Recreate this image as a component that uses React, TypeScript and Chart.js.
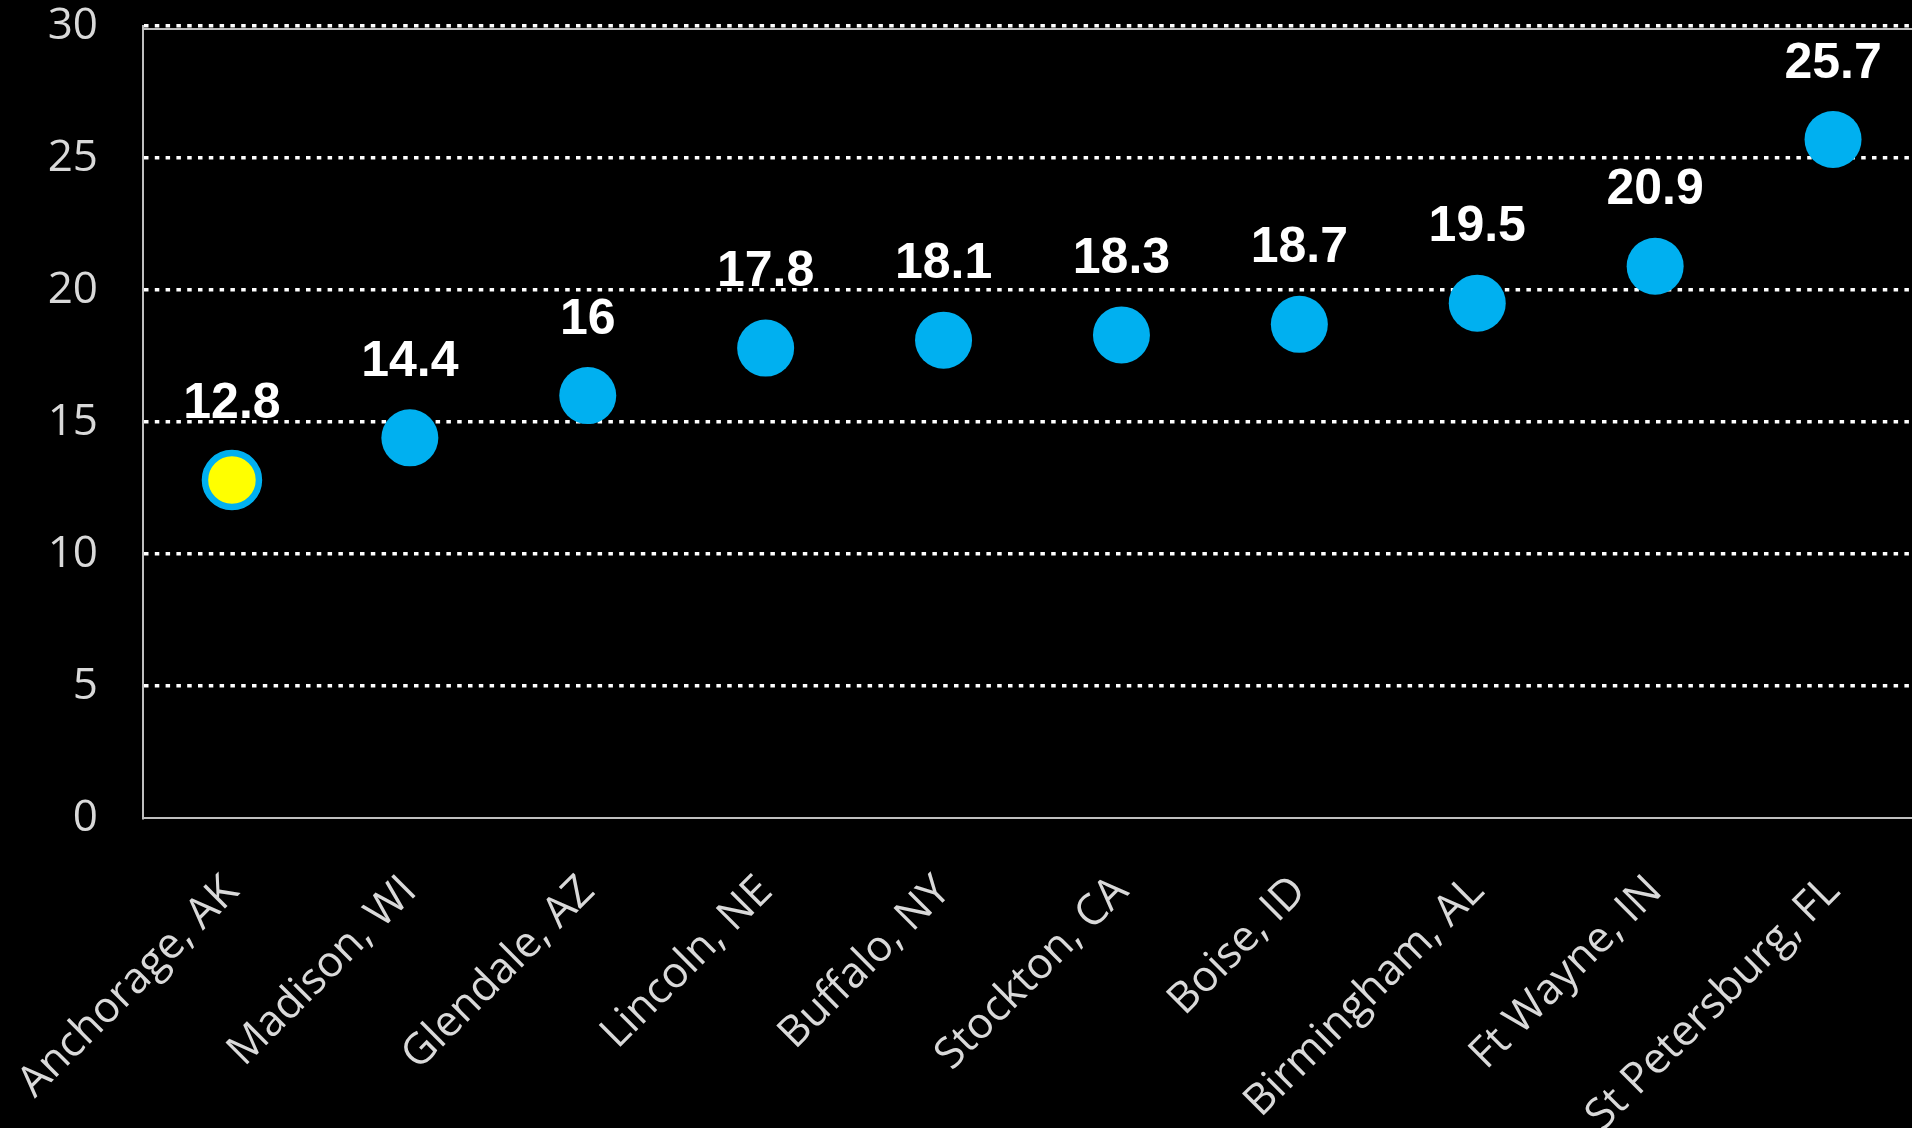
import React, { useEffect, useRef } from 'react';
import { Chart, registerables } from 'chart.js';

Chart.register(...registerables);

const cities = [
  'Anchorage, AK',
  'Madison, WI',
  'Glendale, AZ',
  'Lincoln, NE',
  'Buffalo, NY',
  'Stockton, CA',
  'Boise, ID',
  'Birmingham, AL',
  'Ft Wayne, IN',
  'St Petersburg, FL',
];
const values = [12.8, 14.4, 16, 17.8, 18.1, 18.3, 18.7, 19.5, 20.9, 25.7];
const highlightCity = 'Anchorage, AK';
const yMin = 0;
const yMax = 30;
const yStep = 5;

const BLUE = '#00B0F0';
const YELLOW = '#FFFF00';

const valueLabels = {
  id: 'valueLabels',
  afterDatasetsDraw(chart: any) {
    const ctx = chart.ctx;
    const meta = chart.getDatasetMeta(0);
    ctx.save();
    ctx.font = 'bold 50px "Liberation Sans", Arial, sans-serif';
    ctx.fillStyle = '#FFFFFF';
    ctx.textAlign = 'center';
    ctx.textBaseline = 'alphabetic';
    meta.data.forEach((pt: any, i: number) => {
      ctx.fillText(String(values[i]), pt.x, pt.y - 62);
    });
    ctx.restore();
  },
};

const plotTopBorder = {
  id: 'plotTopBorder',
  beforeDatasetsDraw(chart: any) {
    const { ctx, chartArea } = chart;
    ctx.save();
    ctx.strokeStyle = '#BFBFBF';
    ctx.lineWidth = 2;
    ctx.beginPath();
    ctx.moveTo(chartArea.left, chartArea.top + 3);
    ctx.lineTo(chartArea.right, chartArea.top + 3);
    ctx.stroke();
    ctx.restore();
  },
};

export default function App() {
  const ref = useRef<HTMLCanvasElement>(null);

  useEffect(() => {
    if (!ref.current) return;
    const hi = cities.indexOf(highlightCity);
    const chart = new Chart(ref.current, {
      type: 'line',
      data: {
        labels: cities,
        datasets: [
          {
            data: values,
            showLine: false,
            pointRadius: cities.map((_, i) => (i === hi ? 27 : 28.5)),
            pointHoverRadius: cities.map((_, i) => (i === hi ? 27 : 28.5)),
            pointBackgroundColor: cities.map((_, i) => (i === hi ? YELLOW : BLUE)),
            pointBorderColor: BLUE,
            pointBorderWidth: cities.map((_, i) => (i === hi ? 6.5 : 0)),
          },
        ],
      },
      options: {
        responsive: false,
        devicePixelRatio: 1,
        animation: false,
        layout: { autoPadding: false, padding: { top: 26, left: 0, right: 0, bottom: 0 } },
        plugins: {
          legend: { display: false },
          tooltip: { enabled: false },
        },
        scales: {
          x: {
            offset: true,
            grid: { display: false, drawTicks: false },
            border: { display: true, color: '#BFBFBF', width: 2 },
            ticks: {
              color: '#D9D9D9',
              font: { family: '"Open Sans", sans-serif', size: 43 },
              minRotation: 45,
              maxRotation: 45,
              padding: 48,
              autoSkip: false,
            },
            afterFit(scale: any) {
              scale.height = 1128 - 818;
              scale.paddingLeft = 0;
              scale.paddingRight = 0;
            },
          },
          y: {
            min: yMin,
            max: yMax,
            ticks: {
              stepSize: yStep,
              color: '#D9D9D9',
              font: { family: '"Open Sans", sans-serif', size: 44 },
              padding: 45,
            },
            grid: {
              drawTicks: false,
              color: (c: any) => (c.tick && c.tick.value === 0 ? 'rgba(0,0,0,0)' : '#FFFFFF'),
              lineWidth: 3.5,
            },
            border: { display: true, color: '#BFBFBF', width: 2, dash: [4.5, 6.3] },
            afterFit(scale: any) {
              scale.width = 143;
              scale.paddingTop = 0;
              scale.paddingBottom = 0;
            },
          },
        },
      },
      plugins: [plotTopBorder, valueLabels],
    });
    return () => chart.destroy();
  }, []);

  return (
    <div
      style={{
        position: 'fixed',
        left: 0,
        top: 0,
        width: 1912,
        height: 1128,
        overflow: 'hidden',
        background: '#000000',
      }}
    >
      <canvas ref={ref} width={1922} height={1128} style={{ display: 'block' }} />
    </div>
  );
}
